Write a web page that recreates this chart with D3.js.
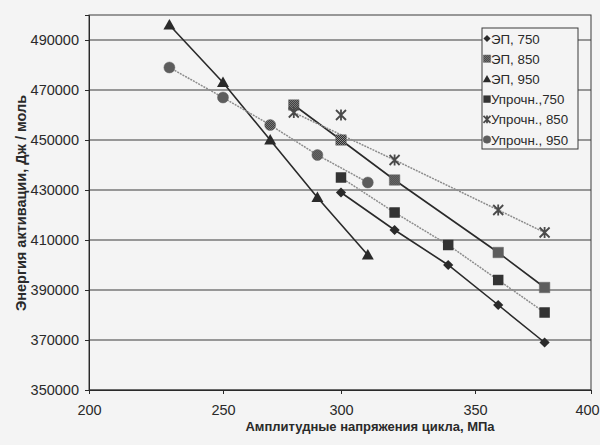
<!DOCTYPE html>
<html>
<head>
<meta charset="utf-8">
<script src="https://cdn.jsdelivr.net/npm/d3@7"></script>
<style>
  body { margin: 0; background: #f4f4f4; }
  svg { display: block; }
  text { font-family: "Liberation Sans", Arial, sans-serif; fill: #2a2a2a; }
</style>
</head>
<body>
<div id="chart"></div>
<script>
// x values (МПа) and activation energy values (Дж / моль) for each series
const xTicks = [200, 250, 300, 350, 400];
const yTicks = [350000, 370000, 390000, 410000, 430000, 450000, 470000, 490000];

const x950 = [230, 250, 270, 290, 310];
const x850 = [280, 300, 320, 360, 380];
const x750 = [300, 320, 340, 360, 380];

const ep750 = [429000, 414000, 400000, 384000, 369000];
const ep850 = [464000, 450000, 434000, 405000, 391000];
const ep950 = [496000, 473000, 450000, 427000, 404000];
const upr750 = [435000, 421000, 408000, 394000, 381000];
const upr850 = [461000, 460000, 442000, 422000, 413000];
const upr950 = [479000, 467000, 456000, 444000, 433000];
// the 300 MPa point of "Упрочн., 850" is not joined to its line
const upr850Unlinked = [300];

const seriesNames = ['ЭП, 750', 'ЭП, 850', 'ЭП, 950', 'Упрочн.,750', 'Упрочн., 850', 'Упрочн., 950'];

const series = [
  { name: seriesNames[0], xs: x750, ys: ep750, marker: 'diamond', kind: 'ep' },
  { name: seriesNames[1], xs: x850, ys: ep850, marker: 'checker', kind: 'ep' },
  { name: seriesNames[2], xs: x950, ys: ep950, marker: 'triangle', kind: 'ep' },
  { name: seriesNames[3], xs: x750, ys: upr750, marker: 'square', kind: 'upr' },
  { name: seriesNames[4], xs: x850, ys: upr850, marker: 'star', kind: 'upr', skip: upr850Unlinked },
  { name: seriesNames[5], xs: x950, ys: upr950, marker: 'circle', kind: 'upr' }
];

const W = 600, H = 445;
const svg = d3.select('#chart').append('svg').attr('width', W).attr('height', H);
svg.append('rect').attr('width', W).attr('height', H).attr('fill', '#f4f4f4');

const defs = svg.append('defs');
const pat = defs.append('pattern').attr('id', 'checker')
  .attr('width', 2).attr('height', 2).attr('patternUnits', 'userSpaceOnUse');
pat.append('rect').attr('width', 2).attr('height', 2).attr('fill', '#8c8c8c');
pat.append('rect').attr('width', 1).attr('height', 1).attr('fill', '#2e2e2e');
pat.append('rect').attr('x', 1).attr('y', 1).attr('width', 1).attr('height', 1).attr('fill', '#2e2e2e');

// the scanned axis is slightly uneven, so the scale follows the tick positions
const x = d3.scaleLinear().domain(xTicks).range([89, 223, 341, 475, 591]);
const y = d3.scaleLinear().domain([350000, 500000]).range([390, 15]);

// gridlines
svg.append('g').selectAll('line').data(yTicks).enter().append('line')
  .attr('x1', 89).attr('x2', 591)
  .attr('y1', d => y(d)).attr('y2', d => y(d))
  .attr('stroke', '#3a3a3a').attr('stroke-width', 1);

// frame
svg.append('rect').attr('x', 89).attr('y', 15).attr('width', 502).attr('height', 375)
  .attr('fill', 'none').attr('stroke', '#3a3a3a').attr('stroke-width', 1);

const yAxis = svg.append('g').attr('transform', 'translate(89,0)')
  .call(d3.axisLeft(y).tickValues(yTicks).tickSize(4).tickPadding(6).tickFormat(d3.format('d')));
const xAxis = svg.append('g').attr('transform', 'translate(0,390)')
  .call(d3.axisBottom(x).tickValues(xTicks).tickSize(4).tickPadding(11));
[yAxis, xAxis].forEach(a => {
  a.select('.domain').attr('stroke', '#2a2a2a');
  a.selectAll('.tick line').attr('stroke', '#2a2a2a');
  a.selectAll('.tick text').attr('font-size', 14.5).attr('font-family', '"Liberation Sans", Arial, sans-serif').attr('fill', '#2a2a2a');
});
// keep the last label inside the picture
xAxis.selectAll('.tick text').filter(d => d === 400).attr('dx', -4);

svg.append('text').attr('x', 370).attr('y', 431).attr('text-anchor', 'middle')
  .attr('font-size', 13).attr('font-weight', 'bold')
  .text('Амплитудные напряжения цикла, МПа');
svg.append('text').attr('transform', 'translate(26,203) rotate(-90)').attr('text-anchor', 'middle')
  .attr('font-size', 14.5).attr('font-weight', 'bold')
  .text('Энергия активации, Дж / моль');

function drawMarker(g, type, s) {
  const k = s || 1;
  if (type === 'diamond') {
    g.append('path').attr('d', d3.symbol(d3.symbolSquare, 52 * k * k)()).attr('transform', 'rotate(45)')
      .attr('fill', '#2a2a2a');
  } else if (type === 'checker') {
    g.append('path').attr('d', d3.symbol(d3.symbolSquare, 110 * k * k)())
      .attr('fill', 'url(#checker)').attr('stroke', '#666').attr('stroke-width', 0.5);
  } else if (type === 'triangle') {
    g.append('path').attr('d', d3.symbol(d3.symbolTriangle, 62 * k * k)()).attr('transform', 'translate(0,1)')
      .attr('fill', '#2a2a2a');
  } else if (type === 'square') {
    g.append('path').attr('d', d3.symbol(d3.symbolSquare, 110 * k * k)())
      .attr('fill', '#333');
  } else if (type === 'star') {
    const r = 5 * k;
    g.append('path').attr('d', `M${-r},${-r}L${r},${r}M${-r},${r}L${r},${-r}M0,${-r * 1.1}L0,${r * 1.1}`)
      .attr('stroke', '#4a4a4a').attr('stroke-width', 1.8).attr('fill', 'none');
  } else if (type === 'circle') {
    g.append('path').attr('d', d3.symbol(d3.symbolCircle, 95 * k * k)())
      .attr('fill', 'url(#checker)').attr('stroke', '#666').attr('stroke-width', 0.5);
  }
}

const line = d3.line().x(d => x(d[0])).y(d => y(d[1]));

series.forEach(s => {
  const pts = s.xs.map((v, i) => [v, s.ys[i]]);
  const linePts = pts.filter(p => !(s.skip && s.skip.includes(p[0])));
  svg.append('path').datum(linePts).attr('d', line).attr('fill', 'none')
    .attr('stroke', s.kind === 'ep' ? '#2a2a2a' : '#8c8c8c')
    .attr('stroke-width', s.kind === 'ep' ? 1.6 : 1.5)
    .attr('stroke-dasharray', s.kind === 'ep' ? null : '2,1');
});

series.forEach(s => {
  s.xs.forEach((v, i) => {
    const g = svg.append('g').attr('transform', `translate(${x(v)},${y(s.ys[i])})`);
    drawMarker(g, s.marker);
  });
});

// legend
const lg = svg.append('g');
lg.append('rect').attr('x', 482).attr('y', 28).attr('width', 96).attr('height', 121)
  .attr('fill', '#f4f4f4').attr('stroke', '#3a3a3a');
series.forEach((s, i) => {
  const cy = 38.5 + i * 20.2;
  const g = lg.append('g').attr('transform', `translate(487,${cy})`);
  drawMarker(g, s.marker, 0.7);
  lg.append('text').attr('x', 491).attr('y', cy + 5).attr('font-size', 13.3).text(s.name);
});
</script>
</body>
</html>
